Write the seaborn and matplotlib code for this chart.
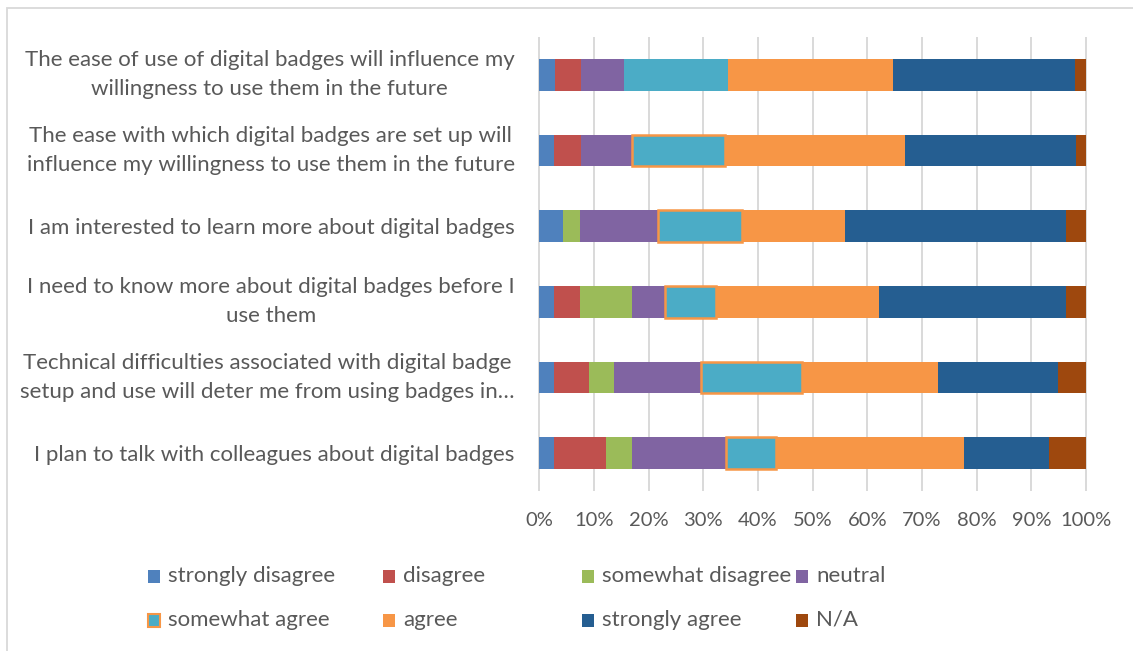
import matplotlib
matplotlib.use("Agg")
import matplotlib.pyplot as plt
from matplotlib.patches import Rectangle
import numpy as np
import seaborn as sns

# Survey statements (one horizontal bar each, top to bottom)
statements = [
    "The ease of use of digital badges will influence my\nwillingness to use them in the future",
    "The ease with which digital badges are set up will\ninfluence my willingness to use them in the future",
    "I am interested to learn more about digital badges",
    "I need to know more about digital badges before I\nuse them",
    "Technical difficulties associated with digital badge\nsetup and use will deter me from using badges in\u2026",
    "I plan to talk with colleagues about digital badges",
]

# Response categories (stack order, left to right)
responses = ["strongly disagree", "disagree", "somewhat disagree", "neutral",
             "somewhat agree", "agree", "strongly agree", "N/A"]

# Share of respondents (%) per response, one value per statement
strongly_disagree = [2.9, 2.7, 4.4, 2.7, 2.7, 2.7]
disagree          = [4.8, 4.9, 0.0, 4.8, 6.4, 9.5]
somewhat_disagree = [0.0, 0.0, 3.1, 9.4, 4.6, 4.7]
neutral           = [7.9, 9.4, 14.2, 6.2, 15.8, 17.2]
somewhat_agree    = [19.0, 17.0, 15.4, 9.3, 18.6, 9.2]
agree             = [30.1, 32.8, 18.8, 29.7, 24.9, 34.4]
strongly_agree    = [33.2, 31.3, 40.5, 34.3, 21.8, 15.5]
not_applicable    = [2.1, 1.9, 3.6, 3.6, 5.2, 6.8]

x_ticks = list(range(0, 101, 10))
x_tick_labels = [f"{t}%" for t in x_ticks]

series = [strongly_disagree, disagree, somewhat_disagree, neutral,
          somewhat_agree, agree, strongly_agree, not_applicable]
colors = ["#4F81BD", "#C0504D", "#9BBB59", "#8064A2",
          "#4BACC6", "#F79646", "#255E91", "#9E480E"]
outline_orange = "#F79646"
text_color = "#595959"
grid_color = "#D9D9D9"

sns.set_theme(style="white")
plt.rcParams["font.family"] = ["Lato", "DejaVu Sans"]
FS_LABEL = 16
FS_TICK = 14.5

W, H = 1133, 651
fig = plt.figure(figsize=(W / 100, H / 100), dpi=100)
fig.patch.set_facecolor("white")

# Light outer frame (only top and left edges fall inside the canvas)
fig.patches.append(Rectangle((7 / W, -0.1), 1.2, 1.1 - 8 / H,
                             transform=fig.transFigure, fill=False,
                             edgecolor=grid_color, linewidth=1.3))

ax = fig.add_axes([538.3 / W, 1 - 491 / H, (1087 - 538.3) / W, (491 - 37) / H])

# Stacked bars: one seaborn barplot per response, then shift each bar to start
# where the previous segments end
vals = np.array(series)
lefts = np.vstack([np.zeros(vals.shape[1]), np.cumsum(vals, axis=0)[:-1]])
for i, name in enumerate(responses):
    sns.barplot(x=vals[i], y=statements, orient="h", color=colors[i],
                saturation=1, width=0.42, linewidth=0, ax=ax)
    for k, bar in enumerate(ax.containers[-1]):
        bar.set_x(lefts[i][k])
        bar.set_width(vals[i][k])
        if name == "somewhat agree" and k > 0:
            bar.set_edgecolor(outline_orange)
            bar.set_linewidth(1.8)
            bar.set_zorder(3)

ax.set_xlim(-0.15, 100.15)
ax.set_xticks(x_ticks)
ax.set_xticklabels(x_tick_labels)
ax.xaxis.grid(True, color=grid_color, linewidth=1.4)
ax.yaxis.grid(False)
ax.set_axisbelow(True)
for s in ax.spines.values():
    s.set_visible(False)
ax.set_xlabel("")
ax.set_ylabel("")
ax.tick_params(axis="x", length=0, pad=15, labelsize=FS_TICK, labelcolor=text_color)
ax.tick_params(axis="y", length=0, pad=17, labelsize=FS_LABEL, labelcolor=text_color)
for lab in ax.get_yticklabels():
    lab.set_multialignment("center")
    lab.set_linespacing(1.55)
    if "\n" in lab.get_text():
        lab.set_verticalalignment("center")

# Legend laid out in two rows of four
col_x = [148, 383, 582, 796]
row_y = [576, 620]
sq_w, sq_h = 12, 13
for idx, name in enumerate(responses):
    r, c = divmod(idx, 4)
    x0, yc = col_x[c], row_y[r]
    edge = outline_orange if name == "somewhat agree" else colors[idx]
    fig.patches.append(Rectangle((x0 / W, 1 - (yc + sq_h / 2) / H), sq_w / W, sq_h / H,
                                 transform=fig.transFigure, facecolor=colors[idx],
                                 edgecolor=edge, linewidth=1.5 if name == "somewhat agree" else 0))
    fig.text((x0 + sq_w + 8) / W, 1 - yc / H, name, fontsize=FS_LABEL, color=text_color,
             ha="left", va="center")

fig.savefig("out.png", dpi=100, facecolor="white")
